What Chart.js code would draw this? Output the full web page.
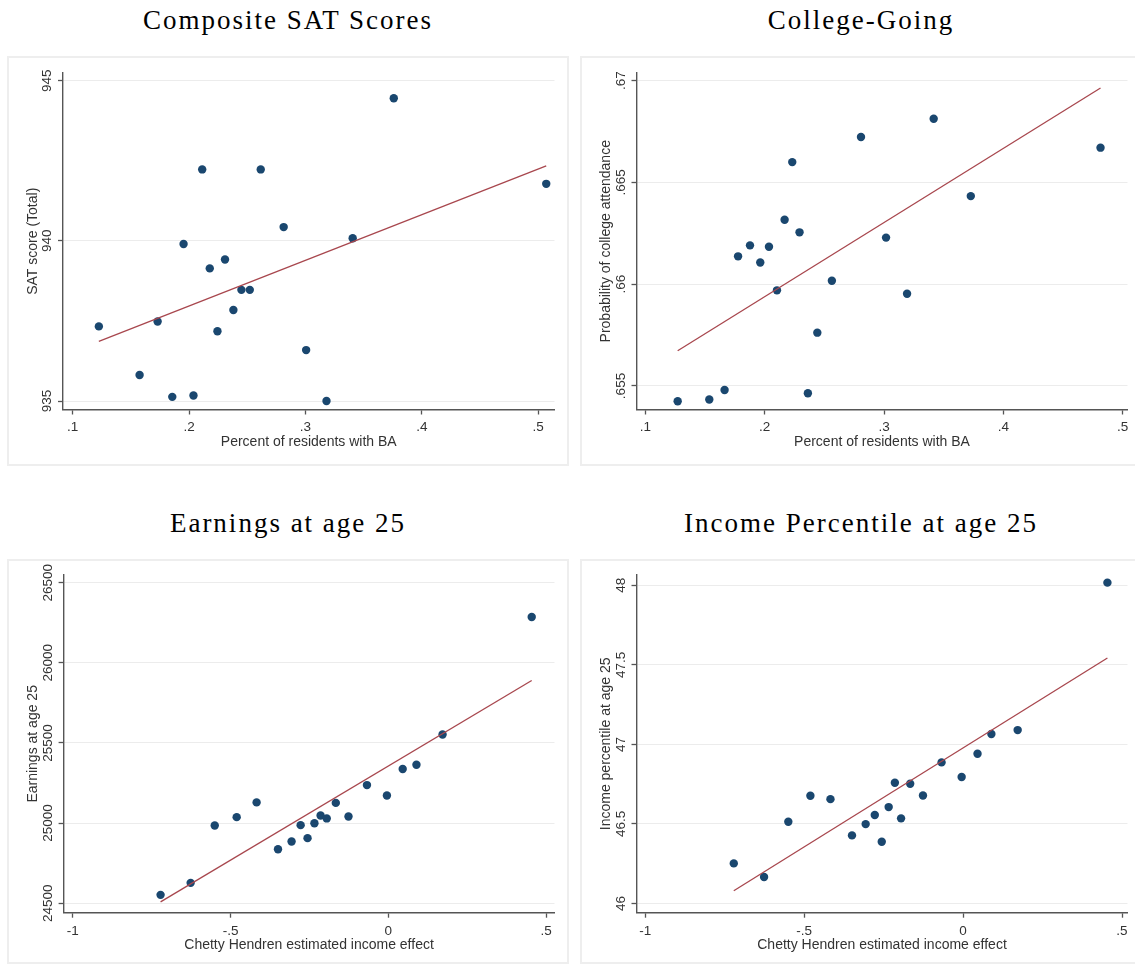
<!DOCTYPE html>
<html>
<head>
<meta charset="utf-8">
<script src="https://cdn.jsdelivr.net/npm/chart.js@4.4.1/dist/chart.umd.min.js"></script>
<style>
  html, body { margin: 0; padding: 0; background: #fff; }
  body { width: 1135px; height: 965px; overflow: hidden; position: relative; }
  .title {
    position: absolute; width: 562px; text-align: center; white-space: nowrap;
    font-family: "Liberation Serif", "Times New Roman", serif; font-size: 27px;
    line-height: 27px; letter-spacing: 2px; color: #000;
  }
  .panel { position: absolute; }
  .panel canvas { position: absolute; left: 0; top: 0; }
  .frame { position: absolute; left: 0; top: 0; right: 0; bottom: 0; box-sizing: border-box;
           border: 2px solid #eeeeee; pointer-events: none; }
</style>
</head>
<body>

<div class="title" style="left:7px; top:7px;">Composite SAT Scores</div>
<div class="title" style="left:580px; top:7px;">College-Going</div>
<div class="title" style="left:7px; top:510px;">Earnings at age 25</div>
<div class="title" style="left:580px; top:510px;">Income Percentile at age 25</div>

<div class="panel" style="left:7px; top:56px; width:562px; height:410px;">
  <canvas id="sat" width="562" height="410"></canvas><div class="frame"></div>
</div>
<div class="panel" style="left:580px; top:56px; width:562px; height:410px;">
  <canvas id="college" width="562" height="410"></canvas><div class="frame"></div>
</div>
<div class="panel" style="left:7px; top:559px; width:562px; height:405px;">
  <canvas id="earnings" width="562" height="405"></canvas><div class="frame"></div>
</div>
<div class="panel" style="left:580px; top:559px; width:562px; height:405px;">
  <canvas id="pctile" width="562" height="405"></canvas><div class="frame"></div>
</div>

<script>
// ---- Composite SAT scores vs. share of residents with a BA ----
const satShareBA = [0.1225, 0.1575, 0.1730, 0.1856, 0.1953, 0.2038, 0.2113, 0.2178, 0.2244, 0.2309,
                    0.2381, 0.2450, 0.2522, 0.2616, 0.2813, 0.3006, 0.3181, 0.3406, 0.3759, 0.5069];
const satScore   = [937.33, 935.81, 937.48, 935.13, 939.90, 935.17, 942.23, 939.14, 937.18, 939.42,
                    937.84, 938.47, 938.47, 942.23, 940.43, 936.59, 935.00, 940.08, 944.45, 941.78];
const satFitX = [0.1225, 0.5069];
const satFitY = [936.86, 942.34];

// ---- College-going vs. share of residents with a BA ----
const collegeShareBA = [0.1271, 0.1536, 0.1664, 0.1777, 0.1877, 0.1963, 0.2036, 0.2103, 0.2167, 0.2231,
                        0.2292, 0.2362, 0.2441, 0.2563, 0.2807, 0.3017, 0.3193, 0.3416, 0.3727, 0.4814];
const collegeRate = [0.65425, 0.65434, 0.65480, 0.66137, 0.66191, 0.66107, 0.66184, 0.65970, 0.66317, 0.66600,
                     0.66255, 0.65464, 0.65762, 0.66017, 0.66723, 0.66229, 0.65953, 0.66813, 0.66433, 0.66671];
const collegeFitX = [0.1271, 0.4814];
const collegeFitY = [0.65673, 0.66964];

// ---- Age-25 outcomes vs. Chetty-Hendren estimated income effect ----
const incomeEffect = [-0.7216, -0.6263, -0.5500, -0.4805, -0.4174, -0.3496, -0.3066, -0.2779, -0.2560, -0.2342,
                      -0.2147, -0.1952, -0.1665, -0.1263, -0.0678, -0.0046, 0.0454, 0.0890, 0.1717, 0.4541];
const earnings25 = [24552, 24627, 24985, 25037, 25129, 24837, 24885, 24987, 24906, 24999,
                    25047, 25029, 25126, 25041, 25237, 25172, 25337, 25364, 25553, 26286];
const earningsFitX = [-0.7216, 0.4541];
const earningsFitY = [24508, 25890];

const pctile25 = [46.252, 46.166, 46.514, 46.677, 46.656, 46.428, 46.499, 46.556, 46.388, 46.606,
                  46.759, 46.535, 46.753, 46.679, 46.887, 46.795, 46.941, 47.065, 47.090, 48.017];
const pctileFitX = [-0.7216, 0.4541];
const pctileFitY = [46.080, 47.543];

// ---- Tick values and their labels ----
const shareTicks = [0.1, 0.2, 0.3, 0.4, 0.5];
const shareTickLabels = ['.1', '.2', '.3', '.4', '.5'];
const effectTicks = [-1, -0.5, 0, 0.5];
const effectTickLabels = ['-1', '-.5', '0', '.5'];
const satTicks = [935, 940, 945];
const satTickLabels = ['935', '940', '945'];
const collegeTicks = [0.655, 0.66, 0.665, 0.67];
const collegeTickLabels = ['.655', '.66', '.665', '.67'];
const earningsTicks = [24500, 25000, 25500, 26000, 26500];
const earningsTickLabels = ['24500', '25000', '25500', '26000', '26500'];
const pctileTicks = [46, 46.5, 47, 47.5, 48];
const pctileTickLabels = ['46', '46.5', '47', '47.5', '48'];

// ---- Styling ----
const SANS = '"Liberation Sans", Arial, sans-serif';
const DOT = '#1a476f';
const FIT = '#a8474e';
const AXIS = '#555555';
const GRID = '#ececec';
const TEXT = '#333333';
const TICK_FONT = 13.5;
const TITLE_FONT = 14;

// Vertical (bottom-to-top) y tick labels, placed on the y scale's tick pixels
const rotatedYLabels = {
  id: 'rotatedYLabels',
  afterDraw(chart, args, opts) {
    const s = chart.scales.y;
    const ctx = chart.ctx;
    ctx.save();
    ctx.font = TICK_FONT + 'px ' + SANS;
    ctx.fillStyle = TEXT;
    ctx.textAlign = 'center';
    ctx.textBaseline = 'middle';
    s.ticks.forEach((t, i) => {
      const py = s.getPixelForValue(t.value);
      ctx.save();
      ctx.translate(s.right - opts.offset, py);
      ctx.rotate(-Math.PI / 2);
      ctx.fillText(opts.labels[i], 0, 0);
      ctx.restore();
    });
    ctx.restore();
  }
};

function makePanel(id, p) {
  const canvas = document.getElementById(id);
  const W = canvas.width, H = canvas.height;
  const xTitlePad = H - (p.area.bottom + 32.3) - TITLE_FONT * 0.6;
  return new Chart(canvas, {
    type: 'scatter',
    data: {
      datasets: [
        {
          type: 'line',
          data: p.fitX.map((x, i) => ({ x: x, y: p.fitY[i] })),
          borderColor: FIT, borderWidth: 1.3, pointRadius: 0, fill: false, order: 0
        },
        {
          type: 'scatter',
          data: p.xs.map((x, i) => ({ x: x, y: p.ys[i] })),
          backgroundColor: DOT, borderWidth: 0, pointRadius: 4.2, order: 1
        }
      ]
    },
    options: {
      responsive: false, animation: false, devicePixelRatio: 1,
      layout: { padding: { left: 0, top: p.area.top, right: W - p.area.right, bottom: 0 } },
      plugins: {
        legend: { display: false }, tooltip: { enabled: false },
        rotatedYLabels: { labels: p.yLabels, offset: 15.5 }
      },
      scales: {
        x: {
          type: 'linear', min: p.xMin, max: p.xMax,
          afterBuildTicks: s => { s.ticks = p.xTicks.map(v => ({ value: v })); },
          afterFit: s => { s.height = H - p.area.bottom; },
          ticks: {
            callback: (v, i) => p.xLabels[i], autoSkip: false, maxRotation: 0,
            font: { family: SANS, size: TICK_FONT }, color: TEXT, padding: 5
          },
          grid: { drawOnChartArea: false, drawTicks: true, tickLength: 5, tickColor: AXIS, tickWidth: 1.3 },
          border: { color: AXIS, width: 1.4 },
          title: {
            display: true, text: p.xTitle, color: TEXT,
            font: { family: SANS, size: TITLE_FONT }, padding: { top: 0, bottom: xTitlePad }
          }
        },
        y: {
          type: 'linear', min: p.yMin, max: p.yMax,
          afterBuildTicks: s => { s.ticks = p.yTicks.map(v => ({ value: v })); },
          afterFit: s => { s.width = p.area.left; },
          ticks: { display: false },
          grid: { color: GRID, lineWidth: 1, drawTicks: true, tickLength: 5, tickColor: AXIS, tickWidth: 1.3 },
          border: { color: AXIS, width: 1.4 },
          title: {
            display: true, text: p.yTitle, color: TEXT,
            font: { family: SANS, size: TITLE_FONT }, padding: { top: 17.6, bottom: 0 }
          }
        }
      }
    },
    plugins: [rotatedYLabels]
  });
}

makePanel('sat', {
  xs: satShareBA, ys: satScore, fitX: satFitX, fitY: satFitY,
  xTicks: shareTicks, xLabels: shareTickLabels, yTicks: satTicks, yLabels: satTickLabels,
  xMin: 0.0917, xMax: 0.514, yMin: 934.735, yMax: 945.24,
  xTitle: 'Percent of residents with BA', yTitle: 'SAT score (Total)',
  area: { left: 56, right: 547.5, top: 17, bottom: 353.5 }
});

makePanel('college', {
  xs: collegeShareBA, ys: collegeRate, fitX: collegeFitX, fitY: collegeFitY,
  xTicks: shareTicks, xLabels: shareTickLabels, yTicks: collegeTicks, yLabels: collegeTickLabels,
  xMin: 0.0926, xMax: 0.504, yMin: 0.653845, yMax: 0.670378,
  xTitle: 'Percent of residents with BA', yTitle: 'Probability of college attendance',
  area: { left: 56.5, right: 547.5, top: 17, bottom: 353.5 }
});

makePanel('earnings', {
  xs: incomeEffect, ys: earnings25, fitX: earningsFitX, fitY: earningsFitY,
  xTicks: effectTicks, xLabels: effectTickLabels, yTicks: earningsTicks, yLabels: earningsTickLabels,
  xMin: -1.0288, xMax: 0.5263, yMin: 24440.7, yMax: 26548,
  xTitle: 'Chetty Hendren estimated income effect', yTitle: 'Earnings at age 25',
  area: { left: 56.6, right: 547.5, top: 16, bottom: 353.7 }
});

makePanel('pctile', {
  xs: incomeEffect, ys: pctile25, fitX: pctileFitX, fitY: pctileFitY,
  xTicks: effectTicks, xLabels: effectTickLabels, yTicks: pctileTicks, yLabels: pctileTickLabels,
  xMin: -1.0277, xMax: 0.5173, yMin: 45.942, yMax: 48.065,
  xTitle: 'Chetty Hendren estimated income effect', yTitle: 'Income percentile at age 25',
  area: { left: 56.5, right: 547.5, top: 16, bottom: 353.7 }
});
</script>
</body>
</html>
